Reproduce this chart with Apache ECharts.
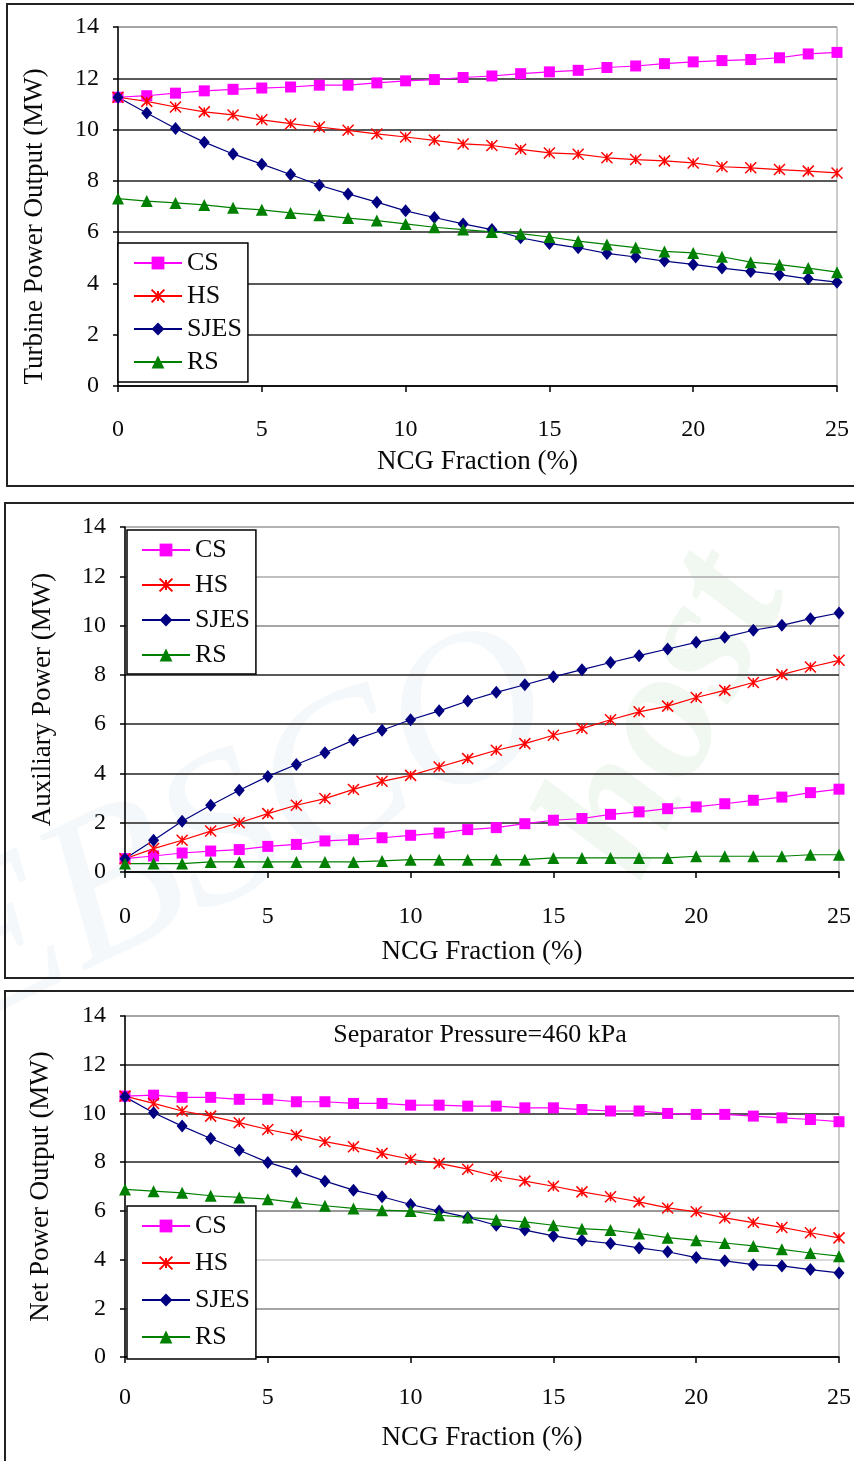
<!DOCTYPE html>
<html>
<head>
<meta charset="utf-8">
<script src="https://cdn.jsdelivr.net/npm/echarts@6/dist/echarts.min.js"></script>
<style>
  html, body { margin: 0; padding: 0; background: #fff; }
  #chart { width: 854px; height: 1461px; }
</style>
</head>
<body>
<div id="chart"></div>
<script>
// NCG fraction (%) on the x axis
const ncg = [0,1,2,3,4,5,6,7,8,9,10,11,12,13,14,15,16,17,18,19,20,21,22,23,24,25]

// Turbine power output (MW)
const turbineCS   = [11.26,11.32,11.42,11.51,11.57,11.62,11.66,11.73,11.73,11.82,11.90,11.95,12.03,12.09,12.18,12.25,12.31,12.42,12.48,12.57,12.64,12.69,12.73,12.80,12.95,13.01]
const turbineHS   = [11.26,11.10,10.88,10.69,10.57,10.38,10.23,10.10,9.97,9.83,9.71,9.58,9.44,9.38,9.23,9.09,9.04,8.90,8.83,8.78,8.70,8.55,8.51,8.44,8.38,8.31]
const turbineSJES = [11.26,10.65,10.04,9.51,9.05,8.65,8.25,7.83,7.49,7.17,6.83,6.57,6.32,6.10,5.78,5.56,5.39,5.17,5.03,4.87,4.74,4.60,4.47,4.34,4.18,4.05]
const turbineRS   = [7.31,7.21,7.14,7.06,6.95,6.87,6.75,6.66,6.55,6.45,6.32,6.19,6.10,6.01,5.94,5.81,5.65,5.52,5.40,5.25,5.19,5.04,4.83,4.73,4.60,4.44]

// Auxiliary power (MW)
const auxCS   = [0.54,0.65,0.77,0.85,0.91,1.04,1.12,1.26,1.31,1.39,1.49,1.58,1.72,1.80,1.96,2.10,2.17,2.34,2.44,2.57,2.64,2.77,2.91,3.04,3.22,3.36]
const auxHS   = [0.54,0.95,1.29,1.66,2.00,2.37,2.71,2.98,3.35,3.68,3.92,4.26,4.60,4.94,5.21,5.55,5.82,6.18,6.50,6.73,7.08,7.37,7.69,8.01,8.32,8.59]
const auxSJES = [0.54,1.29,2.06,2.71,3.32,3.88,4.36,4.84,5.35,5.75,6.18,6.54,6.94,7.29,7.60,7.92,8.21,8.50,8.78,9.05,9.32,9.53,9.81,10.01,10.28,10.51]
const auxRS   = [0.34,0.34,0.34,0.41,0.41,0.41,0.41,0.41,0.41,0.45,0.50,0.50,0.50,0.50,0.50,0.57,0.57,0.57,0.57,0.57,0.64,0.64,0.64,0.64,0.70,0.70]

// Net power output (MW)
const netCS   = [10.71,10.75,10.66,10.66,10.58,10.58,10.48,10.48,10.41,10.41,10.34,10.34,10.30,10.30,10.23,10.23,10.16,10.10,10.10,10.00,9.96,9.96,9.89,9.82,9.75,9.66]
const netHS   = [10.71,10.41,10.10,9.89,9.62,9.34,9.11,8.84,8.63,8.36,8.12,7.95,7.71,7.42,7.22,7.01,6.78,6.58,6.37,6.12,5.96,5.71,5.52,5.32,5.10,4.89]
const netSJES = [10.68,10.03,9.48,8.97,8.49,7.99,7.63,7.22,6.85,6.58,6.26,5.99,5.73,5.41,5.21,4.97,4.79,4.66,4.48,4.32,4.08,3.95,3.79,3.74,3.59,3.45]
const netRS   = [6.88,6.81,6.74,6.62,6.55,6.48,6.34,6.21,6.10,6.03,5.99,5.82,5.73,5.64,5.55,5.41,5.27,5.21,5.07,4.90,4.79,4.68,4.56,4.42,4.27,4.14]

const FONT = '"Liberation Serif","DejaVu Serif",serif'
const INK = '#0a0a0a'

// series look, same in all three panels
const STYLES = {
  CS:   { color: '#FF00FF', symbol: 'rect', symbolSize: 11 },
  HS:   { color: '#FF0000', symbol: 'path://M0,0L10,10M10,0L0,10M5,1L5,9', symbolSize: 11 },
  SJES: { color: '#000080', symbol: 'diamond', symbolSize: [11, 13] },
  RS:   { color: '#008000', symbol: 'triangle', symbolSize: 12 },
}

const panels = [
  { yName: 'Turbine Power Output (MW)', top: 27, height: 359, left: 118, width: 719, yGap: 70, xGap: 62, xMargin: 32, yPad: [0, 40, 0, 0],
    split: ['#222','#222','#222','#222','#222','#222','#222','#999'],
    data: { CS: turbineCS, HS: turbineHS, SJES: turbineSJES, RS: turbineRS },
    legend: { left: 118, top: 243, gap: 7, pad: [7, 6, 7, 15] } },
  { yName: 'Auxiliary Power (MW)', top: 527, height: 345, left: 125, width: 716, yGap: 69, xGap: 66, xMargin: 33, yPad: 0,
    split: ['#222','#222','#222','#222','#222','#888','#aaa','#aaa'],
    data: { CS: auxCS, HS: auxHS, SJES: auxSJES, RS: auxRS },
    legend: { left: 127, top: 530, gap: 9, pad: [7, 6, 6, 14] } },
  { yName: 'Net Power Output (MW)', top: 1016, height: 341, left: 125, width: 717, yGap: 71, xGap: 67, xMargin: 29, yPad: 0,
    split: ['#222','#888','#ccc','#777','#222','#222','#222','#999'],
    data: { CS: netCS, HS: netHS, SJES: netSJES, RS: netRS },
    legend: { left: 127, top: 1206, gap: 11, pad: [7, 6, 9, 14] } },
]

const names = ['CS', 'HS', 'SJES', 'RS']

const grid = [], xAxis = [], yAxis = [], series = [], legend = []
panels.forEach((p, i) => {
  grid.push({ left: p.left, top: p.top, width: p.width, height: p.height, show: true, borderColor: '#999', borderWidth: 1, backgroundColor: 'transparent' })
  xAxis.push({
    gridIndex: i, type: 'value', min: 0, max: 25, interval: 5,
    name: 'NCG Fraction (%)', nameLocation: 'middle', nameGap: p.xGap,
    nameTextStyle: { fontFamily: FONT, fontSize: 27, color: INK },
    axisLine: { lineStyle: { color: '#000', width: 1.5 } },
    axisTick: { show: true, length: 6, lineStyle: { color: '#000', width: 1.5 } },
    axisLabel: { fontFamily: FONT, fontSize: 24, color: INK, margin: p.xMargin },
    splitLine: { show: false },
  })
  yAxis.push({
    gridIndex: i, type: 'value', min: 0, max: 14, interval: 2,
    name: p.yName, nameLocation: 'middle', nameGap: p.yGap, nameRotate: 90,
    nameTextStyle: { fontFamily: FONT, fontSize: 27, color: INK, padding: p.yPad },
    axisLine: { show: true, lineStyle: { color: '#000', width: 1.5 } },
    axisTick: { show: true, length: 5, lineStyle: { color: '#000', width: 1.5 } },
    axisLabel: { fontFamily: FONT, fontSize: 24, color: INK, margin: 19 },
    splitLine: { show: true, lineStyle: { color: p.split, width: 1.5 } },
  })
  names.forEach(n => {
    const s = STYLES[n]
    series.push({
      name: n, type: 'line', xAxisIndex: i, yAxisIndex: i,
      data: ncg.map((x, k) => [x, p.data[n][k]]),
      symbol: s.symbol, symbolSize: s.symbolSize, showSymbol: true,
      lineStyle: { color: s.color, width: 1.2 },
      itemStyle: { color: s.color, borderColor: s.color, borderWidth: n === 'HS' ? 1.5 : 0 },
      emphasis: { disabled: true },
    })
  })
  legend.push({
    orient: 'vertical', left: p.legend.left, top: p.legend.top,
    itemGap: p.legend.gap, itemWidth: 48, itemHeight: 16, padding: p.legend.pad,
    backgroundColor: '#fff', borderColor: '#000', borderWidth: 1.5, borderRadius: 0,
    textStyle: { fontFamily: FONT, fontSize: 26, color: INK },
    data: names,
    selectedMode: false,
  })
})

const chart = echarts.init(document.getElementById('chart'), null, { renderer: 'canvas' })
chart.setOption({
  animation: false,
  backgroundColor: '#fff',
  title: {
    text: 'Separator Pressure=460 kPa', left: 475, top: 1017, textAlign: 'center',
    textStyle: { fontFamily: FONT, fontSize: 26, fontWeight: 'normal', color: INK },
  },
  grid, xAxis, yAxis, series, legend,
  graphic: [
    // faint scan watermark behind the middle and lower panels
    { type: 'text', x: -15, y: 1075, rotation: 0.45, silent: true, z: -2,
      style: { text: 'EBSCO', font: 'italic 215px "Liberation Serif", serif', fill: 'rgba(90,130,190,0.06)', textVerticalAlign: 'bottom' } },
    { type: 'text', x: 680, y: 905, rotation: 1.1, silent: true, z: -2,
      style: { text: 'host', font: 'italic bold 190px "Liberation Serif", serif', fill: 'rgba(60,140,60,0.07)', textVerticalAlign: 'bottom' } },
    { type: 'rect', shape: { x: 7, y: 4, width: 860, height: 482 }, style: { fill: 'none', stroke: '#222', lineWidth: 2 }, z: -1 },
    { type: 'rect', shape: { x: 5, y: 503, width: 860, height: 475 }, style: { fill: 'none', stroke: '#222', lineWidth: 2 }, z: -1 },
    { type: 'rect', shape: { x: 5, y: 991, width: 860, height: 490 }, style: { fill: 'none', stroke: '#222', lineWidth: 2 }, z: -1 },
  ],
})
</script>
</body>
</html>
